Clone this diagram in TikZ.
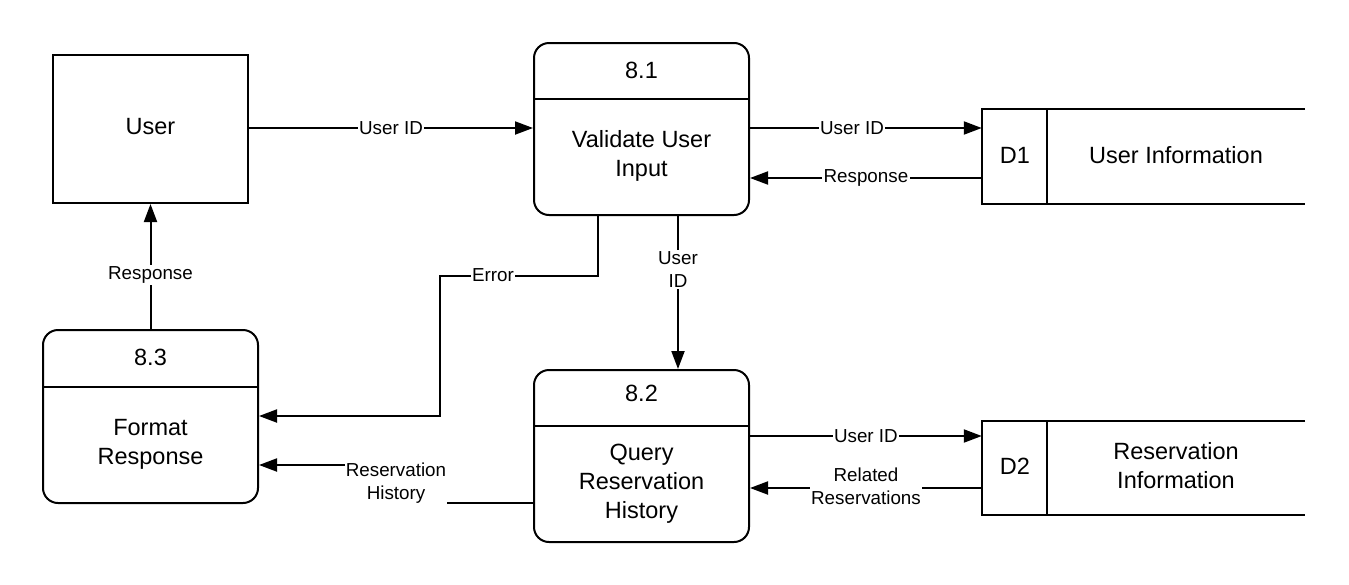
\documentclass[tikz,border=0pt]{standalone}
\usepackage{fontspec}
\setmainfont{Liberation Sans}
\usetikzlibrary{arrows.meta}
\tikzset{
  proc/.style={draw, line width=2pt, rounded corners=15pt, inner sep=0pt},
  ent/.style={draw, line width=2pt, inner sep=0pt},
  ghost/.style={inner sep=0pt},
  big/.style={font=\fontsize{23.5}{29}\selectfont, align=center},
  lbl/.style={font=\fontsize{18.8}{23}\selectfont, align=center, fill=white, inner sep=1.5pt},
  arr/.style={line width=2pt, -{Triangle[length=18pt,width=13pt]}},
  ln/.style={line width=2pt},
  store/.style={line width=2.5pt}
}
\begin{document}
\begin{tikzpicture}[x=1pt,y=-1pt]
\useasboundingbox (0,0) rectangle (1349,584);
% User entity
\node[ent, minimum width=195pt, minimum height=148pt] (user) at (150.5,129) {};
\node[big] (usert) at (150.5,127) {User};
% 8.1
\node[proc, minimum width=215pt, minimum height=172pt] (p81) at (641.5,129) {};
\draw[ln] (p81.west |- 0,99) -- (p81.east |- 0,99);
\node[big] (p81n) at (641.5,70) {8.1};
\node[big] (p81t) at (641.5,156) {Validate User\\Input};
% 8.2
\node[proc, minimum width=215pt, minimum height=172pt] (p82) at (641.5,456) {};
\draw[ln] (p82.west |- 0,426) -- (p82.east |- 0,426);
\node[big] (p82n) at (641.5,393) {8.2};
\node[big] (p82t) at (641.5,483.5) {Query\\Reservation\\History};
% 8.3
\node[proc, minimum width=215pt, minimum height=173pt] (p83) at (150.5,416.5) {};
\draw[ln] (p83.west |- 0,387) -- (p83.east |- 0,387);
\node[big] (p83n) at (150.5,357) {8.3};
\node[big] (p83t) at (150.5,444) {Format\\Response};
% D1
\node[ghost, minimum width=323pt, minimum height=95pt] (d1) at (1143.5,156.5) {};
\draw[store] (d1.north east) -- (d1.north west) -- (d1.south west) -- (d1.south east);
\draw[store] (d1.north west) ++(65,0) coordinate (d1a) -- (d1a |- d1.south);
\node[big] (d1n) at (1015,155) {D1};
\node[big] (d1t) at (1176,155) {User Information};
% D2
\node[ghost, minimum width=323pt, minimum height=94pt] (d2) at (1143.5,468) {};
\draw[store] (d2.north east) -- (d2.north west) -- (d2.south west) -- (d2.south east);
\draw[store] (d2.north west) ++(65,0) coordinate (d2a) -- (d2a |- d2.south);
\node[big] (d2n) at (1015,466) {D2};
\node[big] (d2t) at (1176,466) {Reservation\\Information};
% flows
\draw[arr] (user.east |- 0,128) -- (p81.west |- 0,128)
  node[lbl, pos=0.5] (l1) {User ID};
\draw[arr] (p81.east |- 0,128) -- (d1.west |- 0,128)
  node[lbl, pos=0.44] (l2) {User ID};
\draw[arr] (d1.west |- 0,178) -- (p81.east |- 0,178)
  node[lbl, pos=0.5] (l3) {Response};
\draw[arr] (p81.south -| 678,0) -- (p82.north -| 678,0)
  node[lbl, pos=0.35] (l4) {User\\ID};
\draw[arr] (p81.south -| 598,0) -- (598,276) -- (440,276) -- (440,416) -- (p83.east |- 0,416);
\node[lbl] (l5) at (493,275) {Error};
\draw[arr] (p83.north) -- (user.south)
  node[lbl, pos=0.43] (l6) {Response};
\draw[arr] (p82.east |- 0,436) -- (d2.west |- 0,436)
  node[lbl, pos=0.5] (l7) {User ID};
\draw[arr] (d2.west |- 0,488) -- (p82.east |- 0,488);
\node[lbl] (l8) at (866,486) {Related\\Reservations};
\node[lbl, fill=none] (l9) at (396,483) {Reservation\\History};
\coordinate (rh1) at (447,503);
\coordinate (rh2) at (345,465);
\draw[ln] (p82.west |- rh1) -- (rh1);
\draw[arr] (rh2) -- (rh2 -| p83.east);
\end{tikzpicture}
\end{document}
